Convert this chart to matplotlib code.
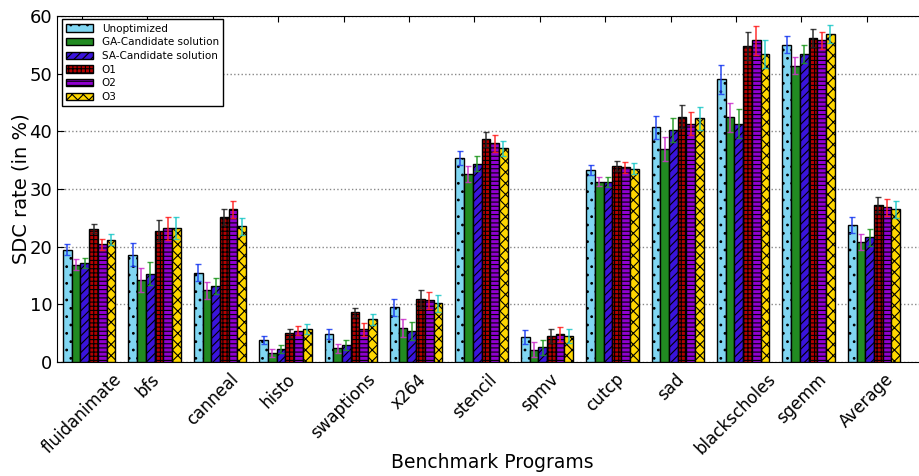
import numpy as np
import matplotlib
matplotlib.use("Agg")
import matplotlib.pyplot as plt

categories = ["fluidanimate", "bfs", "canneal", "histo", "swaptions", "x264",
              "stencil", "spmv", "cutcp", "sad", "blackscholes", "sgemm", "Average"]

series_names = ["Unoptimized", "GA-Candidate solution", "SA-Candidate solution", "O1", "O2", "O3"]

unopt = [19.5, 18.6, 15.5, 3.8, 4.85, 9.5, 35.4, 4.3, 33.3, 40.7, 49.0, 55.0, 23.75]
ga    = [16.9, 14.2, 12.4, 1.55, 2.4, 5.9, 32.6, 2.1, 31.3, 36.9, 42.4, 51.4, 20.75]
sa    = [17.2, 15.3, 13.2, 2.25, 2.95, 5.4, 34.4, 2.55, 31.2, 40.2, 41.3, 53.4, 21.6]
o1    = [23.1, 22.8, 25.1, 5.0, 8.6, 10.9, 38.6, 4.45, 34.0, 42.5, 54.8, 56.2, 27.2]
o2    = [20.4, 23.2, 26.5, 5.4, 5.65, 10.7, 37.9, 4.8, 33.75, 41.3, 55.8, 55.8, 26.8]
o3    = [21.2, 23.2, 23.5, 5.7, 7.4, 10.2, 37.05, 4.45, 33.5, 42.3, 53.4, 56.9, 26.5]

err_unopt = [0.9, 2.0, 1.5, 0.75, 0.85, 1.5, 1.25, 1.25, 0.9, 2.0, 2.5, 1.5, 1.45]
err_ga    = [0.9, 2.1, 1.4, 0.75, 0.8, 1.5, 1.35, 1.3, 0.85, 2.1, 2.5, 1.5, 1.4]
err_sa    = [0.9, 2.0, 1.4, 0.75, 0.85, 1.5, 1.3, 1.25, 0.9, 2.1, 2.5, 1.5, 1.4]
err_o1    = [0.8, 1.9, 1.4, 0.8, 0.85, 1.6, 1.3, 1.2, 0.9, 2.0, 2.4, 1.5, 1.4]
err_o2    = [0.9, 2.0, 1.5, 0.8, 1.1, 1.45, 1.4, 1.27, 0.9, 2.0, 2.5, 1.5, 1.45]
err_o3    = [0.95, 1.9, 1.5, 0.85, 0.9, 1.5, 1.3, 1.2, 0.95, 2.0, 2.5, 1.5, 1.45]

values = [unopt, ga, sa, o1, o2, o3]
errors = [err_unopt, err_ga, err_sa, err_o1, err_o2, err_o3]

face_colors = ["#80d6f2", "#228b22", "#3a14dc", "#b40000", "#9000d0", "#ffd700"]
hatches = ["..", "", "////", "++++", "----", "xxx"]
err_colors = ["#1a3cf0", "#cc33cc", "#229922", "#222222", "#ff2020", "#20c8c8"]

plt.rcParams["hatch.linewidth"] = 0.8

fig = plt.figure(figsize=(9.2, 4.76), dpi=100)
ax = fig.add_axes([57 / 920, 114 / 476, 868 / 920, 346 / 476])

n = len(categories)
x = np.arange(n)
width = 0.8 / 6

for k in range(6):
    ax.bar(x + k * width, values[k], width, align="edge",
           color=face_colors[k], edgecolor="black", linewidth=1.0,
           hatch=hatches[k], label=series_names[k], zorder=3)
    ax.errorbar(x + (k + 0.5) * width, values[k], yerr=errors[k], fmt="none",
                ecolor=err_colors[k], elinewidth=1.2, capsize=2, capthick=1.0,
                alpha=0.85, zorder=4)

ax.set_xlim(-0.092, -0.092 + 868 / 65.4)
ax.set_ylim(0, 60)
ax.set_yticks(range(0, 61, 10))
ax.tick_params(axis="y", labelsize=13, direction="in", right=False, length=5)
ax.set_xticks(x + 0.29)
ax.set_xticklabels(categories, rotation=45, ha="center", fontsize=12)
ax.tick_params(axis="x", direction="in", top=True, length=4, pad=6)
ax.yaxis.grid(True, linestyle=":", color="#888888", linewidth=1.0, zorder=0)
ax.set_axisbelow(True)

ax.set_ylabel("SDC rate (in %)", fontsize=14)
ax.set_xlabel("Benchmark Programs", fontsize=13.5)
ax.yaxis.set_label_coords(-0.031, 0.5)
ax.xaxis.set_label_coords(0.501, -0.262)

leg = ax.legend(loc="upper left", bbox_to_anchor=(0.006, 0.99), borderaxespad=0,
                fontsize=7.5, handlelength=2.6, labelspacing=0.35,
                fancybox=False, framealpha=1.0, edgecolor="black")
leg.get_frame().set_linewidth(1.0)

fig.savefig("out.png", dpi=100)
